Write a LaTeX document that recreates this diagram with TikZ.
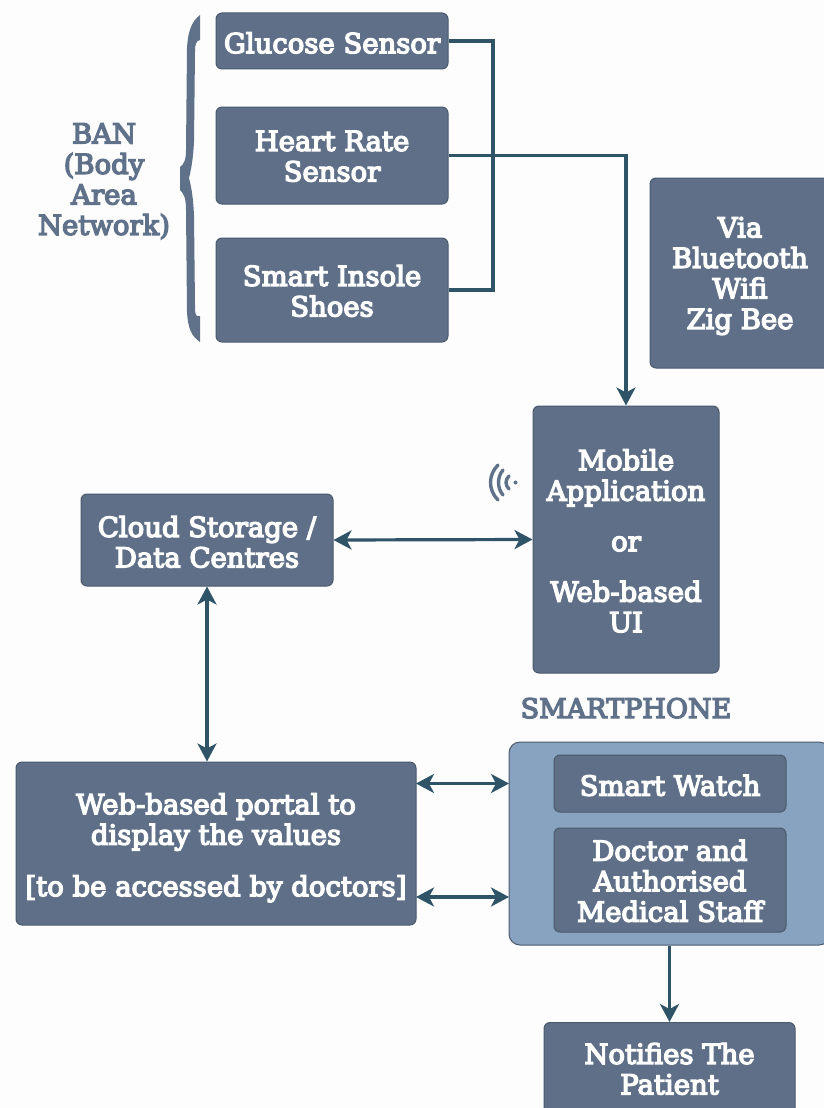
\documentclass[tikz,border=0pt]{standalone}
\usepackage{fontspec}
\setmainfont[RawFeature={embolden=5}]{DejaVu Serif}
\usetikzlibrary{arrows.meta}
\definecolor{boxfill}{HTML}{5E6F87}
\definecolor{boxedge}{HTML}{4A5A6E}
\definecolor{outerfill}{HTML}{88A3BF}
\definecolor{linecol}{HTML}{2F5468}
\definecolor{labelcol}{HTML}{5F728A}
\definecolor{paper}{HTML}{FDFDFD}
\newcommand{\tl}[2][8]{\vbox{\hbox{\rule{0pt}{#1pt}}\nointerlineskip\hbox{\begin{tabular}{@{}c@{}}#2\end{tabular}}}}
\tikzset{
  box/.style={draw=boxedge,line width=1pt,fill=boxfill,rounded corners=6pt,text=white,
    inner sep=0pt,font=\fontsize{27.5}{30.5}\selectfont},
  outerbox/.style={draw=boxedge,line width=1pt,fill=outerfill,rounded corners=11pt,inner sep=0pt},
  lbl/.style={text=labelcol,inner sep=0pt,font=\fontsize{27.5}{30.5}\selectfont},
  conn/.style={draw=linecol,line width=3.2pt},
  one/.style={conn,-{Stealth[length=18pt,width=19pt,inset=5pt]}},
  two/.style={conn,{Stealth[length=18pt,width=19pt,inset=5pt]}-{Stealth[length=18pt,width=19pt,inset=5pt]}},
  wave/.style={draw=labelcol,line width=3.4pt,line cap=round}
}
\begin{document}
\begin{tikzpicture}[x=1pt,y=-1pt]
\path[use as bounding box,fill=paper] (0,0) rectangle (824,1108);
\begin{scope}
\clip (0,0) rectangle (824,1108);
\node[outerbox,minimum width=321pt,minimum height=203pt] (outer) at (669.5,843.5) {};
\node[box,minimum width=232pt,minimum height=57pt] (watch) at (670,783.5) {\tl[12]{Smart Watch}};
\node[box,minimum width=232pt,minimum height=104pt] (doctor) at (670,880) {\tl[10]{Doctor and\\Authorised\\Medical Staff}};
\node[box,minimum width=232pt,minimum height=56pt] (glucose) at (332,41) {\tl[12]{Glucose Sensor}};
\node[box,minimum width=232pt,minimum height=97pt] (heart) at (332,155.5) {\tl[9]{Heart Rate\\Sensor}};
\node[box,minimum width=232pt,minimum height=104pt] (insole) at (332,290) {\tl[10]{Smart Insole\\Shoes}};
\node[box,minimum width=180pt,minimum height=190pt] (via) at (740,273) {\tl{Via\\Bluetooth\\Wifi\\Zig Bee}};
\node[box,minimum width=186pt,minimum height=267pt] (mobile) at (626,539.5) {\tl[11]{Mobile\\Application\\[20pt]or\\[20pt]Web-based\\UI}};
\node[box,minimum width=252pt,minimum height=92pt] (cloud) at (207,540) {\tl[12]{Cloud Storage /\\Data Centres}};
\node[box,minimum width=400pt,minimum height=163pt] (portal) at (216,843.5) {\tl[11]{Web-based portal to\\display the values\\[21pt]{[to be accessed by doctors]}}};
\node[box,minimum width=251pt,minimum height=98pt,anchor=north] (notify) at (669.5,1022) {\tl[3]{Notifies The\\Patient}};
\node[lbl] (ban) at (104,179) {\tl{BAN\\(Body\\Area\\Network)}};
\node[lbl,font=\fontsize{27}{30}\selectfont] (phone) at (626,708) {\tl{SMARTPHONE}};
\coordinate (gturn) at (493,41);
\coordinate (pa) at (416,783.5);
\coordinate (oa) at (509,783.5);
\coordinate (pb) at (416,897);
\coordinate (ob) at (509,897);
\draw[conn] (glucose.east) -- (gturn) |- (insole.east);
\draw[one] (heart.east) -| (mobile.north);
\draw[two] (cloud.east) -- (mobile.west);
\draw[two] (cloud.south) -- (cloud.south |- portal.north);
\draw[two] (pa) -- (oa);
\draw[two] (pb) -- (ob);
\draw[one] (outer.south) -- (notify.north);
% brace
\fill[labelcol] (200,15) .. controls (191,22) and (188,32) .. (187,48)
  -- (186,150) .. controls (186,160) and (184,164) .. (180,167)
  -- (180,190) .. controls (184,194) and (186,198) .. (186,210)
  -- (187,312) .. controls (188,328) and (191,336) .. (200,342)
  -- (200,316) .. controls (196,317) and (195,316) .. (195,305)
  -- (194,215) .. controls (193,195) and (191,186) .. (189,178)
  .. controls (191,170) and (193,160) .. (194,142)
  -- (195,52) .. controls (195,44) and (196,41) .. (200,40) -- cycle;
% wireless icon
\fill[labelcol] (515.5,482.5) circle (2pt);
\draw[wave] (509,476) .. controls (505,480) and (505,485) .. (509,489);
\draw[wave] (503,470) .. controls (497,477) and (497,488) .. (503,495);
\draw[wave] (498,465) .. controls (488,475) and (488,490) .. (498,500);
\end{scope}
\end{tikzpicture}
\end{document}
